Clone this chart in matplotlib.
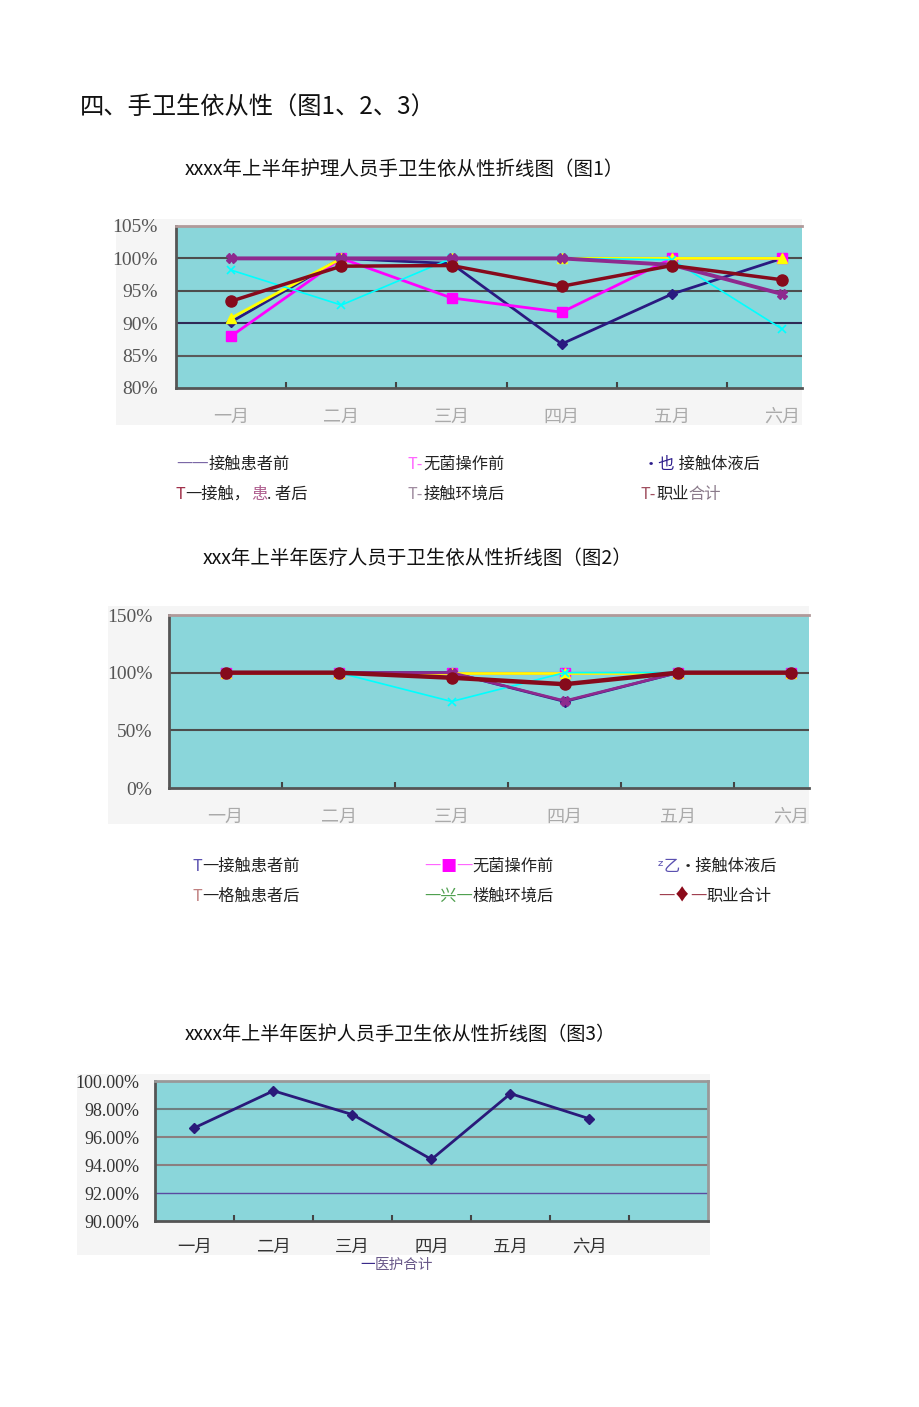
import matplotlib
matplotlib.use('Agg')
import matplotlib.pyplot as plt
from matplotlib.patches import Rectangle

plt.rcParams['font.family'] = ['Noto Sans CJK SC', 'DejaVu Sans']

W, H = 920, 1407

# ---------------- data ----------------
months = ['一月', '二月', '三月', '四月', '五月', '六月']
series_names = ['接触患者前', '无菌操作前', '接触体液后', '接触患者后', '接触环境后', '职业合计']

# Figure 1: nursing staff (%)
nurse_before_patient = [90.2, 100, 99.2, 86.8, 94.5, 100]
nurse_before_aseptic = [88.0, 100, 93.9, 91.7, 100, 100]
nurse_after_fluid = [90.8, 100, 100, 100, 100, 100]
nurse_after_patient = [100, 100, 100, 100, 99.0, 94.5]
nurse_after_env = [98.2, 92.8, 100, 100, 99.8, 89.1]
nurse_total = [93.4, 98.8, 98.9, 95.7, 98.9, 96.7]

# Figure 2: medical staff (%)
doc_before_patient = [100, 100, 100, 75, 100, 100]
doc_before_aseptic = [100, 100, 100, 100, 100, 100]
doc_after_fluid = [100, 100, 100, 100, 100, 100]
doc_after_patient = [100, 100, 100, 75.5, 100, 100]
doc_after_env = [100, 100, 75, 100, 100, 100]
doc_total = [100, 100, 95.6, 90.0, 100, 100]

# Figure 3: combined (%)
all_total = [96.66, 99.3, 97.6, 94.4, 99.1, 97.3]

y1_ticks = [80, 85, 90, 95, 100, 105]
y2_ticks = [0, 50, 100, 150]
y3_ticks = [90, 92, 94, 96, 98, 100]

# ---------------- styles ----------------
PLOT_BG = '#8ad6da'
OUT_BG = '#f5f5f5'
styles = [
    dict(color='#2a1a80', marker='D', ms=5, lw=2.0, z=3),
    dict(color='#ff00ff', marker='s', ms=7, lw=2.0, z=4),
    dict(color='#ffff00', marker='^', ms=7, lw=2.0, z=5),
    dict(color='#8e2a8e', marker='X', ms=7, lw=2.8, z=7),
    dict(color='#00ffff', marker='x', ms=6, lw=1.2, mew=1.2, z=6),
    dict(color='#860a1c', marker='o', ms=8, lw=2.5, z=8),
]

fig = plt.figure(figsize=(W / 100, H / 100), dpi=100)
fig.patch.set_facecolor('white')

bg = fig.add_axes([0, 0, 1, 1])
bg.set_xlim(0, W)
bg.set_ylim(H, 0)
bg.axis('off')


def add_ax(l, t, r, b):
    return fig.add_axes([l / W, 1 - b / H, (r - l) / W, (b - t) / H])


def outer(l, t, r, b):
    bg.add_patch(Rectangle((l, t), r - l, b - t, facecolor=OUT_BG, edgecolor='none', zorder=0))


def chain(x, y, pieces, fs):
    s, c = pieces[0][0], pieces[0][1]
    t = bg.text(x, y, s, color=c, fontsize=fs, va='bottom', ha='left')
    for p in pieces[1:]:
        s, c = p[0], p[1]
        f = p[2] if len(p) > 2 else fs
        t = bg.annotate(s, xy=(1, 0), xycoords=t, color=c, fontsize=f, va='bottom', ha='left')


def style_chart(ax, xlim, ylim, yticks, ylabels, grids, nb, xlab_color, xlab_fs, ylab_color, ylab_fs,
                ypad, xpad, top_color, right_color=None):
    ax.set_facecolor(PLOT_BG)
    ax.set_xlim(*xlim)
    ax.set_ylim(*ylim)
    for gy, gc, gw in grids:
        ax.axhline(gy, color=gc, lw=gw, zorder=1)
    ax.set_yticks(yticks)
    ax.set_yticklabels(ylabels, family=['Liberation Serif', 'DejaVu Serif'], fontsize=ylab_fs, color=ylab_color)
    ax.set_xticks(range(6))
    ax.set_xticklabels(months, fontsize=xlab_fs, color=xlab_color)
    ax.set_xticks([i + 0.5 for i in range(nb)], minor=True)
    ax.tick_params(axis='y', length=0, pad=ypad)
    ax.tick_params(axis='x', which='major', length=0, pad=xpad)
    ax.tick_params(axis='x', which='minor', direction='in', length=4, width=1.5, color='#444444')
    for sp in ['left', 'bottom']:
        ax.spines[sp].set_color('#555555')
        ax.spines[sp].set_linewidth(2)
    ax.spines['top'].set_color(top_color)
    ax.spines['top'].set_linewidth(2)
    if right_color is None:
        ax.spines['right'].set_visible(False)
    else:
        ax.spines['right'].set_color(right_color)
        ax.spines['right'].set_linewidth(2)


# ---------------- headings ----------------
bg.text(80, 108, '四、手卫生依从性（图1、2、3）', fontsize=17.5, color='#111111', va='center', ha='left')
bg.text(185, 169, 'xxxx年上半年护理人员手卫生依从性折线图（图1）', fontsize=14, color='#111111', va='center', ha='left')
bg.text(203, 558, 'xxx年上半年医疗人员于卫生依从性折线图（图2）', fontsize=14, color='#111111', va='center', ha='left')
bg.text(185, 1034, 'xxxx年上半年医护人员手卫生依从性折线图（图3）', fontsize=13.8, color='#111111', va='center', ha='left')

# ---------------- chart 1 ----------------
outer(116, 219, 802, 425)
ax1 = add_ax(176, 226, 802, 388)
style_chart(ax1, (-0.5, 5.18), (80, 105), y1_ticks, [f'{v}%' for v in y1_ticks],
            [(85, '#5a5a5a', 1.5), (90, '#2f2a55', 1.5), (95, '#4d4d4d', 1.5), (100, '#4d4d4d', 1.5)],
            5, '#aaaaaa', 13, '#555555', 14, 13, 14, '#b09a9a')
s1 = [nurse_before_patient, nurse_before_aseptic, nurse_after_fluid, nurse_after_patient, nurse_after_env, nurse_total]
for vals, st, nm in zip(s1, styles, series_names):
    ax1.plot(range(6), vals, color=st['color'], marker=st['marker'], ms=st['ms'], lw=st['lw'],
             mew=st.get('mew', 1), label=nm, zorder=st['z'], clip_on=False)

fs_leg = 11.7
chain(176, 473, [('一一', '#7b68a6'), ('接触患者前', '#222222')], fs_leg)
chain(408, 473, [('T-', '#ff66ff'), ('无菌操作前', '#222222')], fs_leg)
chain(643, 473, [('•也', '#2a1a8a'), (' 接触体液后', '#222222')], fs_leg)
chain(176, 503, [('T', '#a0304a'), ('一接触，', '#222222'), ('患', '#b06090'), ('. 者后', '#222222')], fs_leg)
chain(408, 503, [('T-', '#a08ca0'), ('接触环境后', '#222222')], fs_leg)
chain(641, 503, [('T-', '#a05060'), ('职业', '#222222'), ('合计', '#8a7a8a')], fs_leg)

# ---------------- chart 2 ----------------
outer(108, 606, 809, 824)
ax2 = add_ax(169, 615, 809, 788)
style_chart(ax2, (-0.5, 5.16), (0, 150), y2_ticks, [f'{v}%' for v in y2_ticks],
            [(50, '#4d4d4d', 1.5), (100, '#4d4d4d', 1.5)],
            5, '#aaaaaa', 13, '#555555', 14, 12, 14, '#b09a9a')
s2 = [doc_before_patient, doc_before_aseptic, doc_after_fluid, doc_after_patient, doc_after_env, doc_total]
for vals, st, nm in zip(s2, styles, series_names):
    lw = 3.2 if nm == '职业合计' else min(st['lw'], 2.0)
    ax2.plot(range(6), vals, color=st['color'], marker=st['marker'], ms=st['ms'], lw=lw,
             mew=st.get('mew', 1), label=nm, zorder=st['z'], clip_on=False)

chain(193, 875, [('T', '#5a50b0'), ('一接触患者前', '#222222')], fs_leg)
chain(424, 875, [('一', '#ff66ff'), ('■', '#ff00ff'), ('一', '#ff66ff'), ('无菌操作前', '#222222')], fs_leg)
chain(658, 875, [('ᶻ', '#5a50b0', 8), ('乙', '#5a50b0'), ('•接触体液后', '#222222')], fs_leg)
chain(193, 905, [('T', '#c08080'), ('一格触患者后', '#222222')], fs_leg)
chain(424, 905, [('一兴一', '#50a050'), ('楼触环境后', '#222222')], fs_leg)
chain(658, 905, [('一', '#a04050'), ('♦', '#8b0a1a'), ('一', '#a04050'), ('职业合计', '#222222')], fs_leg)

# ---------------- chart 3 ----------------
outer(77, 1074, 710, 1255)
ax3 = add_ax(155, 1081, 708, 1221)
style_chart(ax3, (-0.5, 6.5), (90, 100), y3_ticks, [f'{v:.2f}%' for v in y3_ticks],
            [(92, '#5a4aa0', 1.0), (94, '#8a7f80', 1.5), (96, '#8a7f80', 1.5), (98, '#6f7f80', 1.5)],
            6, '#333333', 12.5, '#333333', 13, 11.5, 12, '#999999', right_color='#999999')
ax3.plot(range(6), all_total, color='#2a1a7a', marker='D', ms=5, lw=2, zorder=3, label='医护合计')

chain(360, 1272, [('一', '#3a2a8a'), ('医护合计', '#6a5a8a')], 10.5)

fig.savefig('out.png', dpi=100, facecolor='white')
